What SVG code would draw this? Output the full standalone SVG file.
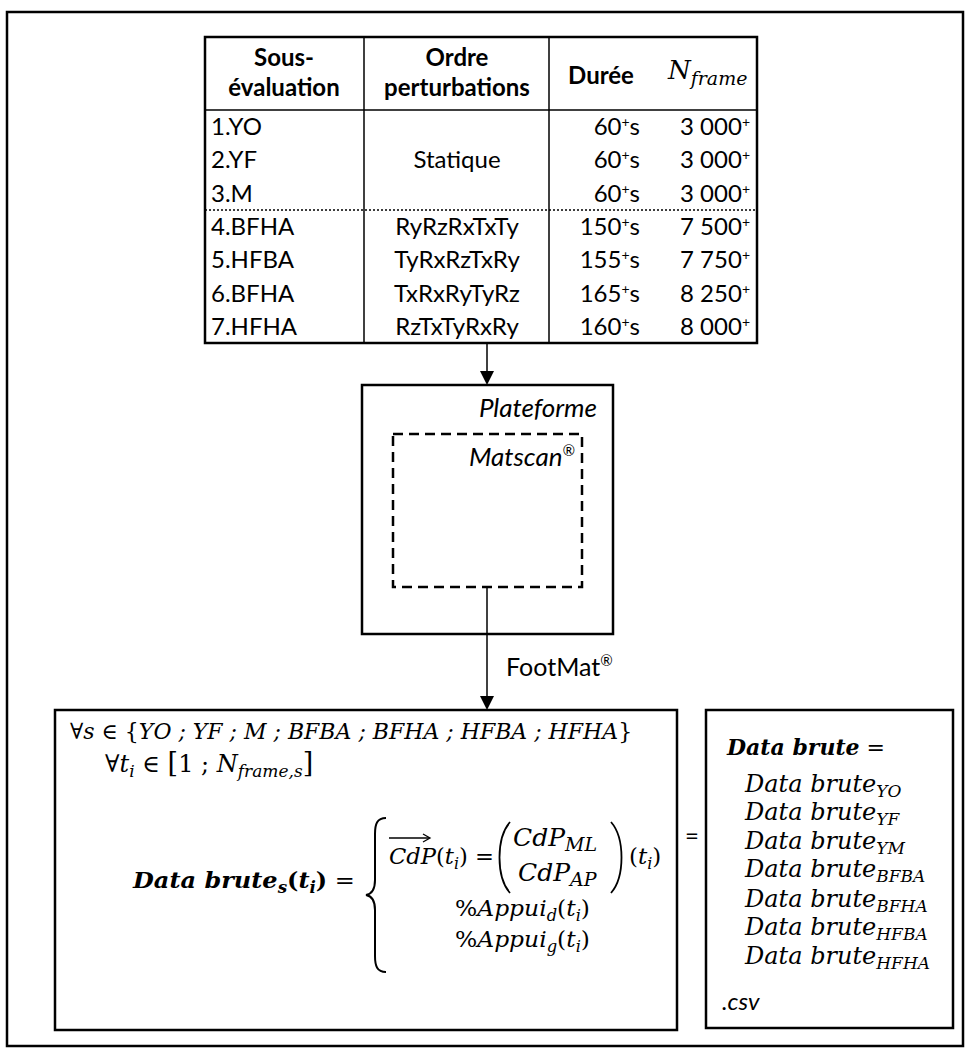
<svg xmlns="http://www.w3.org/2000/svg" width="969" height="1059" viewBox="0 0 969 1059">
<style>
.sans{font-family:Lato,"Liberation Sans",sans-serif;font-size:24px;fill:#000}
.b{font-weight:bold}
.it{font-style:italic}
.math{font-family:"DejaVu Serif","Liberation Serif",serif;font-style:italic;font-size:23px;fill:#000}
.mr{font-style:normal}
.sub{font-size:16px}
.sup{font-size:14px}
.thick{fill:none;stroke:#000;stroke-width:2.5}
.thin{fill:none;stroke:#000;stroke-width:1.5}
.ln{stroke:#000;stroke-width:1.5}
</style>
<rect x="7" y="12" width="956" height="1034" class="thick"/>
<g id="table">
<rect x="205" y="37" width="552" height="306" class="thick"/>
<line x1="364" y1="37" x2="364" y2="343" class="thin"/>
<line x1="549" y1="37" x2="549" y2="343" class="thin"/>
<line x1="205" y1="110" x2="757" y2="110" class="thin"/>
<line x1="205" y1="210" x2="757" y2="210" stroke="#000" stroke-width="1.5" stroke-dasharray="2 2"/>
<text class="sans b" x="284" y="66" text-anchor="middle">Sous-</text>
<text class="sans b" x="284" y="96" text-anchor="middle">évaluation</text>
<text class="sans b" x="457" y="66" text-anchor="middle">Ordre</text>
<text class="sans b" x="457" y="96" text-anchor="middle">perturbations</text>
<text class="sans b" x="601" y="84" text-anchor="middle">Durée</text>
<text class="math" x="668" y="79" style="font-size:26px">N<tspan style="font-size:19px" dy="6">frame</tspan></text>
<g class="sans">
<text x="211" y="135">1.YO</text>
<text x="211" y="168">2.YF</text>
<text x="211" y="202">3.M</text>
<text x="211" y="235">4.BFHA</text>
<text x="211" y="268">5.HFBA</text>
<text x="211" y="302">6.BFHA</text>
<text x="211" y="335">7.HFHA</text>
<text x="457" y="168" text-anchor="middle">Statique</text>
<text x="457" y="235" text-anchor="middle">RyRzRxTxTy</text>
<text x="457" y="268" text-anchor="middle">TyRxRzTxRy</text>
<text x="457" y="302" text-anchor="middle">TxRxRyTyRz</text>
<text x="457" y="335" text-anchor="middle">RzTxTyRxRy</text>
<text x="640" y="135" text-anchor="end">60<tspan class="sup" dy="-8">+</tspan><tspan dy="8">s</tspan></text>
<text x="640" y="168" text-anchor="end">60<tspan class="sup" dy="-8">+</tspan><tspan dy="8">s</tspan></text>
<text x="640" y="202" text-anchor="end">60<tspan class="sup" dy="-8">+</tspan><tspan dy="8">s</tspan></text>
<text x="640" y="235" text-anchor="end">150<tspan class="sup" dy="-8">+</tspan><tspan dy="8">s</tspan></text>
<text x="640" y="268" text-anchor="end">155<tspan class="sup" dy="-8">+</tspan><tspan dy="8">s</tspan></text>
<text x="640" y="302" text-anchor="end">165<tspan class="sup" dy="-8">+</tspan><tspan dy="8">s</tspan></text>
<text x="640" y="335" text-anchor="end">160<tspan class="sup" dy="-8">+</tspan><tspan dy="8">s</tspan></text>
<text x="750" y="135" text-anchor="end">3 000<tspan class="sup" dy="-8">+</tspan></text>
<text x="750" y="168" text-anchor="end">3 000<tspan class="sup" dy="-8">+</tspan></text>
<text x="750" y="202" text-anchor="end">3 000<tspan class="sup" dy="-8">+</tspan></text>
<text x="750" y="235" text-anchor="end">7 500<tspan class="sup" dy="-8">+</tspan></text>
<text x="750" y="268" text-anchor="end">7 750<tspan class="sup" dy="-8">+</tspan></text>
<text x="750" y="302" text-anchor="end">8 250<tspan class="sup" dy="-8">+</tspan></text>
<text x="750" y="335" text-anchor="end">8 000<tspan class="sup" dy="-8">+</tspan></text>
</g>
</g>
<g id="platform">
<rect x="362" y="385" width="251" height="249" class="thick"/>
<text class="sans it" x="597" y="417" style="font-size:26px" text-anchor="end">Plateforme</text>
</g>
<g id="matscan">
<rect x="393" y="434" width="189" height="153" fill="none" stroke="#000" stroke-width="2.5" stroke-dasharray="10 6"/>
<text class="sans it" x="575" y="466" style="font-size:26px" text-anchor="end">Matscan<tspan style="font-size:15px" dy="-10">®</tspan></text>
</g>
<g id="connectors">
<line x1="487" y1="343" x2="487" y2="372" class="ln"/>
<path d="M480,371 L494,371 L487,385 Z" fill="#000"/>
<line x1="487" y1="587" x2="487" y2="697" class="ln"/>
<path d="M480,696 L494,696 L487,710 Z" fill="#000"/>
<text class="sans" x="506" y="676" style="font-size:25px">FootMat<tspan style="font-size:15px" dy="-10">®</tspan></text>
<text class="sans" x="692" y="844" text-anchor="middle">=</text>
</g>
<g id="formula">
<rect x="55" y="710" width="622" height="320" class="thick"/>
<text class="math" x="70" y="739" style="font-size:22px"><tspan class="mr">∀</tspan>s <tspan class="mr">∈ {</tspan>YO ; YF ; M ; BFBA ; BFHA ; HFBA ; HFHA<tspan class="mr">}</tspan></text>
<text class="math" x="105" y="772" style="font-size:24px"><tspan class="mr">∀</tspan>t<tspan style="font-size:17px" dy="5">i</tspan><tspan class="mr" dy="-5"> ∈ </tspan><tspan class="mr" style="font-size:27px">[</tspan><tspan class="mr">1 ; </tspan>N<tspan style="font-size:17px" dy="5">frame,s</tspan><tspan class="mr" style="font-size:27px" dy="-5">]</tspan></text>
<text class="math" x="133" y="888" font-weight="bold" textLength="222" lengthAdjust="spacingAndGlyphs">Data brute<tspan class="sub" dy="5">s</tspan><tspan class="mr" dy="-5">(</tspan>t<tspan class="sub" dy="5">i</tspan><tspan class="mr" dy="-5">)</tspan><tspan class="mr" font-weight="normal"> =</tspan></text>
<path d="M386,818 C377,818 375,824 375,834 L375,880 C375,889 372,894 366,895 C372,896 375,901 375,910 L375,956 C375,966 377,972 386,972" fill="none" stroke="#000" stroke-width="2"/>
<line x1="389" y1="838" x2="429" y2="838" stroke="#000" stroke-width="1.3"/>
<path d="M423,834 L430,838 L423,842" fill="none" stroke="#000" stroke-width="1.3"/>
<text class="math" x="389" y="864" textLength="105" lengthAdjust="spacingAndGlyphs">CdP<tspan class="mr">(</tspan>t<tspan class="sub" dy="5">i</tspan><tspan class="mr" dy="-5">) =</tspan></text>
<path d="M510,822 C496,838 496,877 510,893" fill="none" stroke="#000" stroke-width="1.8"/>
<text class="math" x="513" y="846" style="font-size:25px">CdP<tspan style="font-size:19px" dy="5">ML</tspan></text>
<text class="math" x="518" y="881" style="font-size:25px">CdP<tspan style="font-size:19px" dy="5">AP</tspan></text>
<path d="M611,822 C625,838 625,877 611,893" fill="none" stroke="#000" stroke-width="1.8"/>
<text class="math" x="629" y="864"><tspan class="mr">(</tspan>t<tspan class="sub" dy="5">i</tspan><tspan class="mr" dy="-5">)</tspan></text>
<text class="math" x="455" y="916" textLength="135" lengthAdjust="spacingAndGlyphs"><tspan class="mr">%</tspan>Appui<tspan class="sub" dy="5">d</tspan><tspan class="mr" dy="-5">(</tspan>t<tspan class="sub" dy="5">i</tspan><tspan class="mr" dy="-5">)</tspan></text>
<text class="math" x="455" y="947" textLength="135" lengthAdjust="spacingAndGlyphs"><tspan class="mr">%</tspan>Appui<tspan class="sub" dy="5">g</tspan><tspan class="mr" dy="-5">(</tspan>t<tspan class="sub" dy="5">i</tspan><tspan class="mr" dy="-5">)</tspan></text>
</g>
<g id="databrute">
<rect x="706" y="710" width="247" height="318" class="thick"/>
<text class="math" x="727" y="755" font-weight="bold" style="font-size:22px">Data brute<tspan class="mr" font-weight="normal"> =</tspan></text>
<g class="math" style="font-size:24px">
<text x="745" y="792">Data brute<tspan style="font-size:17px" dy="5">YO</tspan></text>
<text x="745" y="820">Data brute<tspan style="font-size:17px" dy="5">YF</tspan></text>
<text x="745" y="849">Data brute<tspan style="font-size:17px" dy="5">YM</tspan></text>
<text x="745" y="877">Data brute<tspan style="font-size:17px" dy="5">BFBA</tspan></text>
<text x="745" y="907">Data brute<tspan style="font-size:17px" dy="5">BFHA</tspan></text>
<text x="745" y="935">Data brute<tspan style="font-size:17px" dy="5">HFBA</tspan></text>
<text x="745" y="964">Data brute<tspan style="font-size:17px" dy="5">HFHA</tspan></text>
</g>
<text class="sans it" x="722" y="1010">.csv</text>
</g>
</svg>
